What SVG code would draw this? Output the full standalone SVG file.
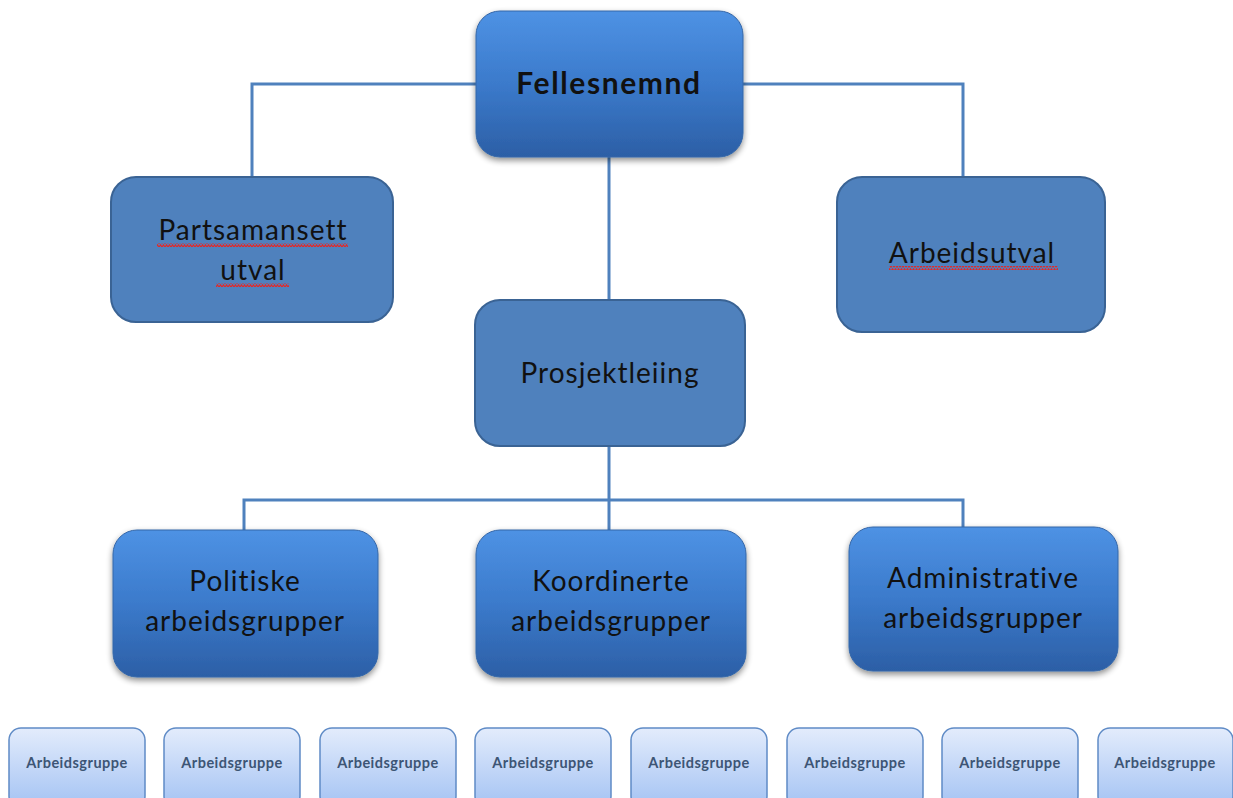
<svg xmlns="http://www.w3.org/2000/svg" width="1233" height="798" viewBox="0 0 1233 798">
<defs>
<linearGradient id="gDark" x1="0" y1="0" x2="0" y2="1">
<stop offset="0" stop-color="#4e92e4"/>
<stop offset="0.5" stop-color="#3b7acb"/>
<stop offset="1" stop-color="#2c5fa6"/>
</linearGradient>
<linearGradient id="gLight" x1="0" y1="0" x2="0" y2="1">
<stop offset="0" stop-color="#e3ecfc"/>
<stop offset="1" stop-color="#a3c2f3"/>
</linearGradient>
<filter id="sh" x="-10%" y="-10%" width="120%" height="125%">
<feGaussianBlur in="SourceAlpha" stdDeviation="3"/>
<feOffset dx="0" dy="3" result="b"/>
<feComponentTransfer><feFuncA type="linear" slope="0.45"/></feComponentTransfer>
<feMerge><feMergeNode/><feMergeNode in="SourceGraphic"/></feMerge>
</filter>
<pattern id="squig" width="6" height="4" patternUnits="userSpaceOnUse">
<path d="M0 3.2 L1.5 0.8 L3 3.2 L4.5 0.8 L6 3.2" fill="none" stroke="#e02a2a" stroke-width="1.2"/>
</pattern>
</defs>
<style>
.dark{fill:url(#gDark);stroke:#3567a8;stroke-width:1;filter:url(#sh)}
.flat{fill:#4f81bd;stroke:#3a6394;stroke-width:2}
.light{fill:url(#gLight);stroke:#5f8bc6;stroke-width:1.5}
.t{font-family:Lato,"Liberation Sans",sans-serif;fill:#111;text-anchor:middle}
.big{font-size:28px;letter-spacing:1px}
.ts{font-family:Lato,"Liberation Sans",sans-serif;font-size:14.5px;letter-spacing:0.5px;font-weight:bold;fill:#3d5575;text-anchor:middle}
.conn{fill:none;stroke:#4f81bd;stroke-width:3}
</style>
<rect width="1233" height="798" fill="#fff"/>
<g id="connectors" class="conn">
<path d="M476 84 H252 V178"/>
<path d="M743 84 H963 V178"/>
<path d="M609 157 V300"/>
<path d="M609 446 V530"/>
<path d="M244 530 V500 H963 V527"/>
</g>
<g id="fellesnemnd">
<rect class="dark" x="476" y="11" width="267" height="146" rx="24"/>
<text class="t" x="609" y="94" font-size="30" font-weight="bold" letter-spacing="1.6">Fellesnemnd</text>
</g>
<g id="partsamansett">
<rect class="flat" x="111" y="177" width="282" height="145" rx="25"/>
<text class="t big" x="253" y="240">Partsamansett</text>
<text class="t big" x="253" y="280">utval</text>
<rect x="157" y="243" width="191" height="4" fill="url(#squig)"/>
<rect x="216" y="283" width="73" height="4" fill="url(#squig)"/>
</g>
<g id="arbeidsutval">
<rect class="flat" x="837" y="177" width="268" height="155" rx="25"/>
<text class="t big" x="972" y="263">Arbeidsutval</text>
<rect x="889" y="266" width="169" height="4" fill="url(#squig)"/>
</g>
<g id="prosjektleiing">
<rect class="flat" x="475" y="300" width="270" height="146" rx="25"/>
<text class="t big" x="610" y="383">Prosjektleiing</text>
</g>
<g id="politiske">
<rect class="dark" x="113" y="530" width="265" height="147" rx="24"/>
<text class="t big" x="245" y="591">Politiske</text>
<text class="t big" x="245" y="631">arbeidsgrupper</text>
</g>
<g id="koordinerte">
<rect class="dark" x="476" y="530" width="270" height="147" rx="24"/>
<text class="t big" x="611" y="591">Koordinerte</text>
<text class="t big" x="611" y="631">arbeidsgrupper</text>
</g>
<g id="administrative">
<rect class="dark" x="849" y="527" width="269" height="144" rx="24"/>
<text class="t big" x="983" y="588">Administrative</text>
<text class="t big" x="983" y="628">arbeidsgrupper</text>
</g>
<g id="ag1"><rect class="light" x="9" y="728" width="136" height="80" rx="12"/><text class="ts" x="77" y="768">Arbeidsgruppe</text></g>
<g id="ag2"><rect class="light" x="164" y="728" width="136" height="80" rx="12"/><text class="ts" x="232" y="768">Arbeidsgruppe</text></g>
<g id="ag3"><rect class="light" x="320" y="728" width="136" height="80" rx="12"/><text class="ts" x="388" y="768">Arbeidsgruppe</text></g>
<g id="ag4"><rect class="light" x="475" y="728" width="136" height="80" rx="12"/><text class="ts" x="543" y="768">Arbeidsgruppe</text></g>
<g id="ag5"><rect class="light" x="631" y="728" width="136" height="80" rx="12"/><text class="ts" x="699" y="768">Arbeidsgruppe</text></g>
<g id="ag6"><rect class="light" x="787" y="728" width="136" height="80" rx="12"/><text class="ts" x="855" y="768">Arbeidsgruppe</text></g>
<g id="ag7"><rect class="light" x="942" y="728" width="136" height="80" rx="12"/><text class="ts" x="1010" y="768">Arbeidsgruppe</text></g>
<g id="ag8"><rect class="light" x="1098" y="728" width="135" height="80" rx="12"/><text class="ts" x="1165" y="768">Arbeidsgruppe</text></g>
</svg>
